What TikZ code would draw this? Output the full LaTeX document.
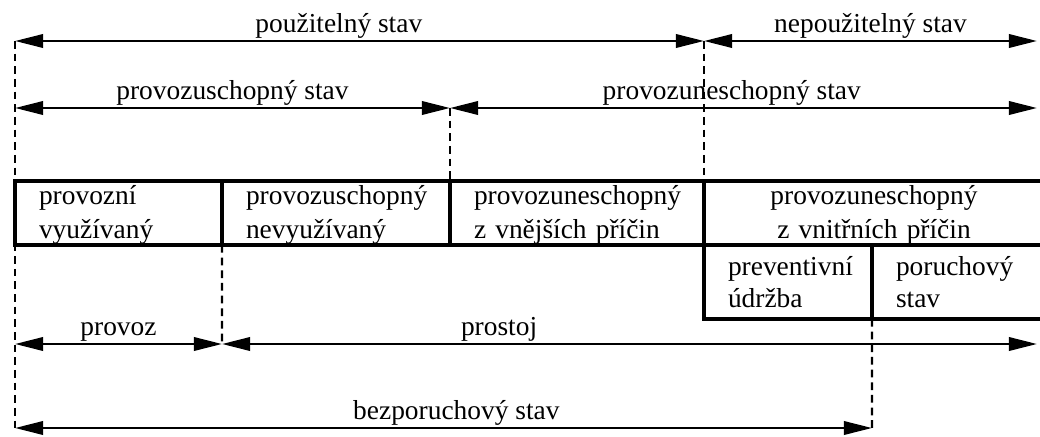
\documentclass[tikz,border=0pt]{standalone}
\usepackage{fontspec}
\setmainfont{Liberation Serif}
\usetikzlibrary{arrows.meta}

\tikzset{
  cell/.style={draw, line width=3.2pt, anchor=north west, inner xsep=6mm, inner ysep=0pt, outer sep=0pt, align=left},
  upper/.style={cell, minimum height=16mm, text height=16.5pt, font=\fontsize{19.5pt}{24pt}\selectfont},
  lower/.style={cell, minimum height=18.5mm},
  span/.style={line width=1.8pt, {Triangle[length=20pt,width=9.5pt]}-{Triangle[length=20pt,width=9.5pt]}},
  guide/.style={line width=1.6pt, dash pattern=on 5.5pt off 3.5pt},
  lbl/.style={above, inner sep=1pt}
}

\begin{document}
\begin{tikzpicture}[x=0.25mm, y=-0.25mm, font=\fontsize{19.5pt}{23pt}\selectfont]
      \clip (0,0) rectangle (1040,436);
      \coordinate (a0) at (15,41);  \coordinate (a1) at (704,41);  \coordinate (a2) at (1037,41);
      \coordinate (b0) at (15,108); \coordinate (b1) at (450,108); \coordinate (b2) at (1037,108);
      \coordinate (c0) at (15,344); \coordinate (c1) at (222,344); \coordinate (c2) at (1037,344);
      \coordinate (d0) at (15,428); \coordinate (d1) at (872,428);

      \node[upper, text width=39.75mm] (pv) at (15,181) {provozní\\využívaný};
      \node[upper, text width=45mm] (nv) at (222,181) {provozuschopný\\nevyužívaný};
      \node[upper, text width=51.5mm] (ve) at (450,181) {provozuneschopný\\z vnějších příčin};
      \node[upper, text width=73mm, align=center] (vn) at (704,181) {provozuneschopný\\z vnitřních příčin};
      \node[lower, text width=30mm] (ud) at (vn.south west) {preventivní\\údržba};
      \node[lower, text width=31mm] (ps) at (ud.north east) {poruchový\\stav};

      \draw[guide] (a0) -- (d0);
      \draw[guide] (a1) -- (vn.north west);
      \draw[guide] (b1) -- (ve.north west);
      \draw[guide] (pv.south east) -- (c1);
      \draw[guide] (ud.south east) -- (d1);

      \draw[span] (a0) -- node[lbl, pos=.47] (lpo) {použitelný stav} (a1);
      \draw[span] (a1) -- node[lbl] (lnp) {nepoužitelný stav} (a2);
      \draw[span] (b0) -- node[lbl] (lps) {provozuschopný stav} (b1);
      \draw[span] (b1) -- node[lbl, pos=.48] (lpn) {provozuneschopný stav} (b2);
      \draw[span] (c0) -- node[lbl] (lpr) {provoz} (c1);
      \draw[span] (c1) -- node[lbl, pos=.34] (lpt) {prostoj} (c2);
      \draw[span] (d0) -- node[lbl, pos=.515] (lbz) {bezporuchový stav} (d1);
\end{tikzpicture}
\end{document}
